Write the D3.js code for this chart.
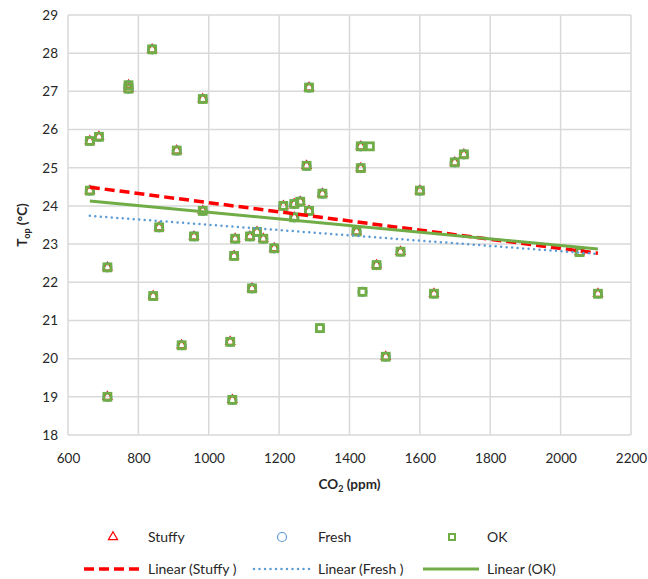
<!DOCTYPE html>
<html>
<head>
<meta charset="utf-8">
<script src="https://cdn.jsdelivr.net/npm/d3@7"></script>
<style>
  body { margin: 0; background: #fff; }
  text { font-family: Lato, "Open Sans", sans-serif; fill: #262626; }
</style>
</head>
<body>
<div id="chart"></div>
<script>
const svgWidth = 648
const svgHeight = 579

let margin = { top: 15, right: 17, bottom: 144, left: 68 }
let width = svgWidth - margin.left - margin.right
let height = svgHeight - margin.top - margin.bottom

// points shared by all three votes [CO2 ppm, Top °C]
const common = [
  [662, 24.4], [662, 25.7], [688, 25.81], [712, 22.39], [712, 19.0],
  [772, 27.07], [772, 27.16], [839, 28.1], [842, 21.64], [859, 23.44],
  [909, 25.45], [923, 20.35], [958, 23.2], [983, 26.8], [983, 23.87],
  [1061, 20.44], [1067, 18.92], [1072, 22.69], [1075, 23.14], [1117, 23.2],
  [1123, 21.84], [1137, 23.32], [1155, 23.14], [1186, 22.89], [1212, 24.0],
  [1243, 24.05], [1243, 23.7], [1260, 24.11], [1278, 25.05], [1285, 27.1],
  [1285, 23.87], [1323, 24.32], [1420, 23.33], [1432, 25.56], [1432, 24.99],
  [1477, 22.45], [1503, 20.05], [1545, 22.8], [1600, 24.4], [1640, 21.7],
  [1699, 25.14], [1725, 25.35], [2054, 22.79], [2106, 21.7]
]
const freshOkOnly = [[1316, 20.8], [1437, 21.75]]
const okOnly = [[1458, 25.56]]

const stuffy = common
const fresh = common.concat(freshOkOnly)
const ok = common.concat(freshOkOnly, okOnly)

// linear trendlines, [start, end]
const trendX = [662, 2106]
const trendStuffy = [24.49, 22.76]
const trendFresh = [23.74, 22.74]
const trendOk = [24.13, 22.87]

const xTicks = [600, 800, 1000, 1200, 1400, 1600, 1800, 2000, 2200]
const yTicks = [18, 19, 20, 21, 22, 23, 24, 25, 26, 27, 28, 29]

const red = "#ff0000"
const blue = "#5b9bd5"
const green = "#70ad47"

let svg = d3.select("#chart")
  .append("svg")
  .attr("width", svgWidth)
  .attr("height", svgHeight)

let chartGroup = svg.append("g")
  .attr("transform", `translate(${margin.left}, ${margin.top})`)

let x = d3.scaleLinear().domain([600, 2200]).range([0, width])
let y = d3.scaleLinear().domain([18, 29]).range([height, 0])

// gridlines
chartGroup.append("g")
  .selectAll("line.v")
  .data(xTicks)
  .enter()
  .append("line")
  .attr("x1", d => x(d)).attr("x2", d => x(d))
  .attr("y1", 0).attr("y2", height)
  .attr("stroke", "#d9d9d9").attr("stroke-width", 1.5)

chartGroup.append("g")
  .selectAll("line.h")
  .data(yTicks)
  .enter()
  .append("line")
  .attr("x1", 0).attr("x2", width)
  .attr("y1", d => y(d)).attr("y2", d => y(d))
  .attr("stroke", "#d9d9d9").attr("stroke-width", 1.5)

// axes (labels only)
let bottomAxis = d3.axisBottom(x).tickValues(xTicks).tickFormat(d3.format("d")).tickSize(0).tickPadding(18)
let leftAxis = d3.axisLeft(y).tickValues(yTicks).tickSize(0).tickPadding(10)

let xAxis = chartGroup.append("g")
  .attr("transform", `translate(0, ${height})`)
  .call(bottomAxis)
xAxis.select(".domain").remove()

let yAxis = chartGroup.append("g").call(leftAxis)
yAxis.select(".domain").remove()

svg.selectAll(".tick text")
  .attr("font-size", "13.5px")
  .attr("font-family", "Lato, sans-serif")
  .attr("fill", "#262626")

// markers
const triangle = d3.symbol().type(d3.symbolTriangle).size(36)

chartGroup.append("g")
  .selectAll("path")
  .data(stuffy)
  .enter()
  .append("path")
  .attr("d", triangle)
  .attr("transform", d => `translate(${x(d[0])}, ${y(d[1])})`)
  .attr("fill", "none")
  .attr("stroke", red)
  .attr("stroke-width", 1.2)

chartGroup.append("g")
  .selectAll("circle")
  .data(fresh)
  .enter()
  .append("circle")
  .attr("cx", d => x(d[0]))
  .attr("cy", d => y(d[1]))
  .attr("r", 4.5)
  .attr("fill", "none")
  .attr("stroke", blue)
  .attr("stroke-width", 1.2)

chartGroup.append("g")
  .selectAll("rect")
  .data(ok)
  .enter()
  .append("rect")
  .attr("x", d => x(d[0]) - 3.5)
  .attr("y", d => y(d[1]) - 3.5)
  .attr("width", 7)
  .attr("height", 7)
  .attr("fill", "none")
  .attr("stroke", green)
  .attr("stroke-width", 2.8)

// trendlines
let line = d3.line().x(d => x(d[0])).y(d => y(d[1]))
const trendPts = vals => trendX.map((v, i) => [v, vals[i]])

chartGroup.append("path")
  .attr("d", line(trendPts(trendStuffy)))
  .attr("stroke", red).attr("stroke-width", 3.5)
  .attr("stroke-dasharray", "10,5").attr("fill", "none")

chartGroup.append("path")
  .attr("d", line(trendPts(trendFresh)))
  .attr("stroke", blue).attr("stroke-width", 2.5)
  .attr("stroke-linecap", "round")
  .attr("stroke-dasharray", "0,5.5").attr("fill", "none")

chartGroup.append("path")
  .attr("d", line(trendPts(trendOk)))
  .attr("stroke", green).attr("stroke-width", 3).attr("fill", "none")

// axis titles
let xTitle = svg.append("text")
  .attr("x", margin.left + width / 2)
  .attr("y", 489)
  .attr("text-anchor", "middle")
  .attr("font-size", "13.5px")
  .attr("font-weight", "bold")
xTitle.append("tspan").text("CO")
xTitle.append("tspan").attr("font-size", "9px").attr("dy", 3).text("2")
xTitle.append("tspan").attr("dy", -3).text(" (ppm)")

let yTitle = svg.append("text")
  .attr("transform", `translate(27, ${margin.top + height / 2}) rotate(-90)`)
  .attr("text-anchor", "middle")
  .attr("font-size", "13.5px")
  .attr("font-weight", "bold")
yTitle.append("tspan").text("T")
yTitle.append("tspan").attr("font-size", "9px").attr("dy", 3).text("op")
yTitle.append("tspan").attr("dy", -3).text(" (°C)")

// legend
const legendNames = ["Stuffy", "Fresh", "OK"]
const trendNames = ["Linear (Stuffy )", "Linear (Fresh )", "Linear (OK)"]
const legendX = [148, 318, 487]

let legend = svg.append("g")

legend.append("path")
  .attr("d", triangle)
  .attr("transform", `translate(113, 537)`)
  .attr("fill", "none").attr("stroke", red).attr("stroke-width", 1.2)
legend.append("circle")
  .attr("cx", 282).attr("cy", 537).attr("r", 4.5)
  .attr("fill", "none").attr("stroke", blue).attr("stroke-width", 1.2)
legend.append("rect")
  .attr("x", 449).attr("y", 534).attr("width", 6).attr("height", 6)
  .attr("fill", "none").attr("stroke", green).attr("stroke-width", 2)

legend.selectAll("text.name")
  .data(legendNames)
  .enter()
  .append("text")
  .attr("x", (d, i) => legendX[i])
  .attr("y", 542)
  .attr("font-size", "14px")
  .text(d => d)

const trendStyles = [
  { color: red, width: 3.5, dash: "10,5", cap: "butt" },
  { color: blue, width: 2.5, dash: "0,5.5", cap: "round" },
  { color: green, width: 3, dash: null, cap: "butt" }
]

legend.selectAll("line.trend")
  .data(trendStyles)
  .enter()
  .append("line")
  .attr("x1", (d, i) => legendX[i] - 64)
  .attr("x2", (d, i) => legendX[i] - 8)
  .attr("y1", 569).attr("y2", 569)
  .attr("stroke", d => d.color)
  .attr("stroke-width", d => d.width)
  .attr("stroke-dasharray", d => d.dash)
  .attr("stroke-linecap", d => d.cap)

legend.selectAll("text.trend")
  .data(trendNames)
  .enter()
  .append("text")
  .attr("x", (d, i) => legendX[i])
  .attr("y", 574)
  .attr("font-size", "14px")
  .text(d => d)
</script>
</body>
</html>
